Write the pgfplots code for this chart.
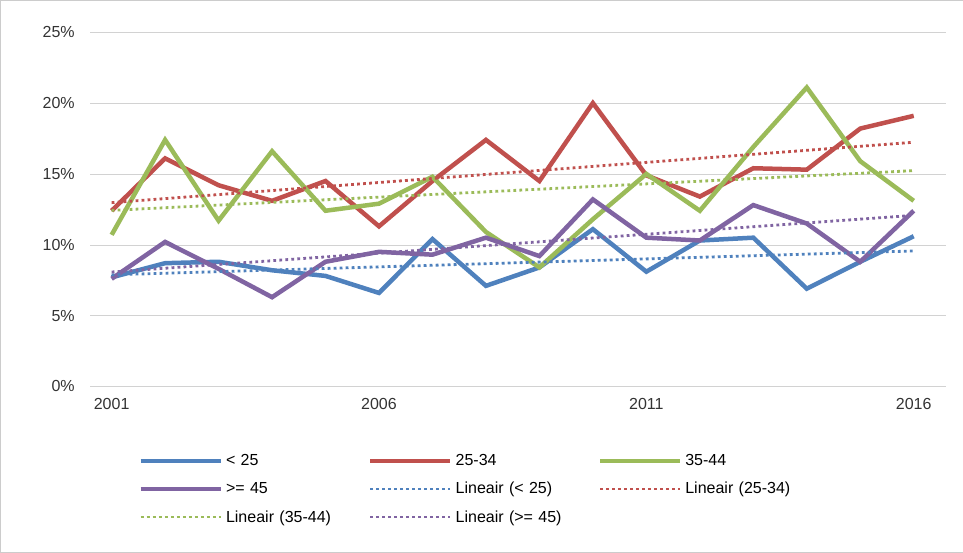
\documentclass[border=0pt]{standalone}
\usepackage{pgfplots}
\usepackage{pgfplotstable}
\pgfplotsset{compat=1.18}
\usepackage{fontspec}
\setmainfont{Liberation Sans}
\definecolor{cb}{HTML}{4F81BD}
\definecolor{cr}{HTML}{C0504D}
\definecolor{cg}{HTML}{9BBB59}
\definecolor{cp}{HTML}{8064A2}
\pgfplotstableread{
x a b c d
2001 7.7 12.4 10.7 7.6
2002 8.7 16.1 17.4 10.2
2003 8.8 14.2 11.7 8.3
2004 8.2 13.1 16.6 6.3
2005 7.8 14.5 12.4 8.8
2006 6.6 11.3 12.9 9.5
2007 10.4 14.5 14.8 9.3
2008 7.1 17.4 10.9 10.5
2009 8.4 14.5 8.4 9.2
2010 11.1 20.0 11.8 13.2
2011 8.1 14.9 15.0 10.5
2012 10.3 13.4 12.4 10.3
2013 10.5 15.4 16.9 12.8
2014 6.9 15.3 21.1 11.5
2015 8.8 18.2 15.9 8.8
2016 10.6 19.1 13.1 12.4
}\data
\begin{document}
\begin{tikzpicture}[x=1pt,y=1pt]
\draw[gray!40] (-90,-166) rectangle (872,386);
\begin{axis}[at={(0,0)},anchor=south west,scale only axis,width=855pt,height=354pt,
 xmin=2000.6,xmax=2016.6,ymin=0,ymax=25,
 xtick={2001,2006,2011,2016},ytick={0,5,10,15,20,25},
 xticklabel style={/pgf/number format/1000 sep={},yshift=-8pt},
 yticklabel style={xshift=-12pt},
 yticklabel={\pgfmathprintnumber{\tick}\%},
 /pgf/number format/assume math mode=true,
 ymajorgrids, grid style={gray!35},
 axis line style={draw=none}, major tick length=0pt,
 ticklabel style={font=\fontsize{16}{18}\selectfont,text=black!80},
 legend columns=3,
 legend style={at={(45pt,-64pt)},anchor=north west,draw=none,
   font=\fontsize{16}{18}\selectfont, row sep=11pt,
   nodes={text width=139pt,anchor=west,inner xsep=3pt}},
 legend cell align=left,
 legend image code/.code={\draw[#1] (0pt,0pt) -- (80pt,0pt);},
 every axis plot/.append style={line width=4.5pt},
 tr/.style={line width=2.8pt,dash pattern=on 2.8pt off 3.2pt},
 ]
\addplot[cb] table[x=x,y=a]{\data}; \addlegendentry{< 25}
\addplot[cr] table[x=x,y=b]{\data}; \addlegendentry{25-34}
\addplot[cg] table[x=x,y=c]{\data}; \addlegendentry{35-44}
\addplot[cp] table[x=x,y=d]{\data}; \addlegendentry{>= 45}
\addplot[cb,tr] table[x=x,y={create col/linear regression={y=a}}]{\data}; \addlegendentry{Lineair (< 25)}
\addplot[cr,tr] table[x=x,y={create col/linear regression={y=b}}]{\data}; \addlegendentry{Lineair (25-34)}
\addplot[cg,tr] table[x=x,y={create col/linear regression={y=c}}]{\data}; \addlegendentry{Lineair (35-44)}
\addplot[cp,tr] table[x=x,y={create col/linear regression={y=d}}]{\data}; \addlegendentry{Lineair (>= 45)}
\end{axis}
\end{tikzpicture}
\end{document}
